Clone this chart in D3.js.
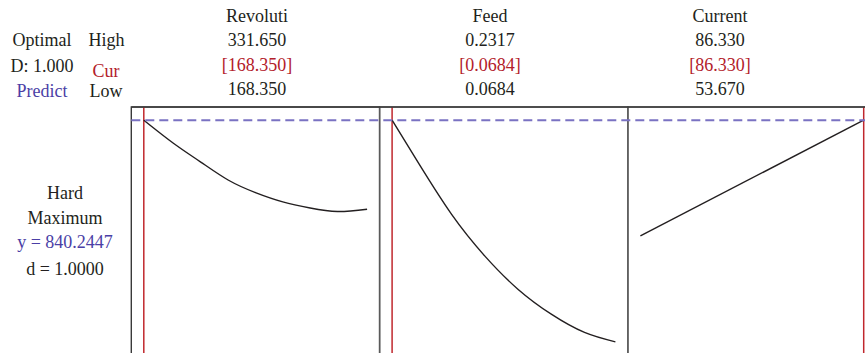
<!DOCTYPE html>
<html>
<head>
<meta charset="utf-8">
<script src="https://cdn.jsdelivr.net/npm/d3@7"></script>
<style>
  html, body { margin: 0; padding: 0; background: #fff; }
  svg { display: block; }
  text { font-family: "Liberation Serif", "Times New Roman", serif; font-size: 18px; }
</style>
</head>
<body>
<svg id="chart" width="865" height="353"></svg>
<script>
// Factor names and their settings
const factors = ["Revoluti", "Feed", "Current"];
const highLabels = ["331.650", "0.2317", "86.330"];
const curLabels = ["[168.350]", "[0.0684]", "[86.330]"];
const lowLabels = ["168.350", "0.0684", "53.670"];
const lows = [168.35, 0.0684, 53.67];
const highs = [331.65, 0.2317, 86.33];
const current = [168.35, 0.0684, 86.33];

// Predicted response along each factor
const revolutiX = [168.35, 190, 210, 230, 250, 270, 290, 310, 331.65];
const revolutiY = [840.2447, 805.7, 777.4, 750.5, 731.6, 717.7, 708.5, 703.3, 706.7];
const feedX = [0.0684, 0.0874, 0.1118, 0.1361, 0.1604, 0.1848, 0.2091, 0.2317];
const feedY = [840.2447, 776.8, 699.2, 636.7, 586.7, 549.2, 521.8, 507.7];
const currentX = [53.67, 86.33];
const currentY = [666.7, 840.2447];

// Response summary
const responseLines = ["Hard", "Maximum", "y = 840.2447", "d = 1.0000"];
const predicted = 840.2447;

const curves = [
  revolutiX.map((x, i) => [x, revolutiY[i]]),
  feedX.map((x, i) => [x, feedY[i]]),
  currentX.map((x, i) => [x, currentY[i]])
];

const svg = d3.select("#chart");
const ink = "#231f20", red = "#b3202a", blue = "#4b3fa6";

const frameLeft = 131.3, panelW = 248.3, pad = 12.5, frameTop = 107;
const y = d3.scaleLinear().domain([360, 860]).range([440.3, frameTop]);

// Header rows
const colX = [257, 490, 720];
const rowY = [22, 46, 70.5, 95];
factors.forEach((f, i) => {
  const g = svg.append("g").attr("text-anchor", "middle");
  g.append("text").attr("x", colX[i]).attr("y", rowY[0]).attr("fill", ink).text(f);
  g.append("text").attr("x", colX[i]).attr("y", rowY[1]).attr("fill", ink).text(highLabels[i]);
  g.append("text").attr("x", colX[i]).attr("y", rowY[2]).attr("fill", red).text(curLabels[i]);
  g.append("text").attr("x", colX[i]).attr("y", rowY[3]).attr("fill", ink).text(lowLabels[i]);
});

const left = svg.append("g").attr("text-anchor", "middle");
left.append("text").attr("x", 42).attr("y", 46).attr("fill", ink).text("Optimal");
left.append("text").attr("x", 42).attr("y", 71.5).attr("fill", ink).text("D: 1.000");
left.append("text").attr("x", 42).attr("y", 96.5).attr("fill", blue).text("Predict");
left.append("text").attr("x", 106.5).attr("y", 46).attr("fill", ink).text("High");
left.append("text").attr("x", 106).attr("y", 77).attr("fill", red).text("Cur");
left.append("text").attr("x", 106).attr("y", 96.5).attr("fill", ink).text("Low");

// Response description beside the panels
const respY = [199, 223.5, 247.5, 275];
const respFill = [ink, ink, blue, ink];
responseLines.forEach((t, i) => {
  svg.append("text").attr("x", 65).attr("y", respY[i]).attr("text-anchor", "middle")
    .attr("fill", respFill[i]).text(t);
});

// Panels
factors.forEach((f, i) => {
  const x0 = frameLeft + i * panelW;
  const x = d3.scaleLinear().domain([lows[i], highs[i]]).range([x0 + pad, x0 + panelW - pad]);

  svg.append("rect")
    .attr("x", x0).attr("y", frameTop).attr("width", panelW).attr("height", 400)
    .attr("fill", "none").attr("stroke", i === 0 ? "#3a3a3a" : "#5a5a5a").attr("stroke-width", 1.4);

  svg.append("line")
    .attr("x1", x(current[i])).attr("x2", x(current[i]))
    .attr("y1", frameTop).attr("y2", 353)
    .attr("stroke", "#c0272d").attr("stroke-width", 1.5);

  const line = d3.line().x(d => x(d[0])).y(d => y(d[1])).curve(d3.curveNatural);
  svg.append("path").datum(curves[i]).attr("d", line)
    .attr("fill", "none").attr("stroke", ink).attr("stroke-width", 1.4);
});

// Predicted response level
svg.append("line")
  .attr("x1", frameLeft).attr("x2", 865)
  .attr("y1", y(predicted)).attr("y2", y(predicted))
  .attr("stroke", "#7a72c2").attr("stroke-width", 2).attr("stroke-dasharray", "9,5");

// Redraw the top edge over everything
svg.append("line").attr("x1", frameLeft).attr("x2", 865).attr("y1", frameTop).attr("y2", frameTop)
  .attr("stroke", "#3a3a3a").attr("stroke-width", 1.4);
</script>
</body>
</html>
